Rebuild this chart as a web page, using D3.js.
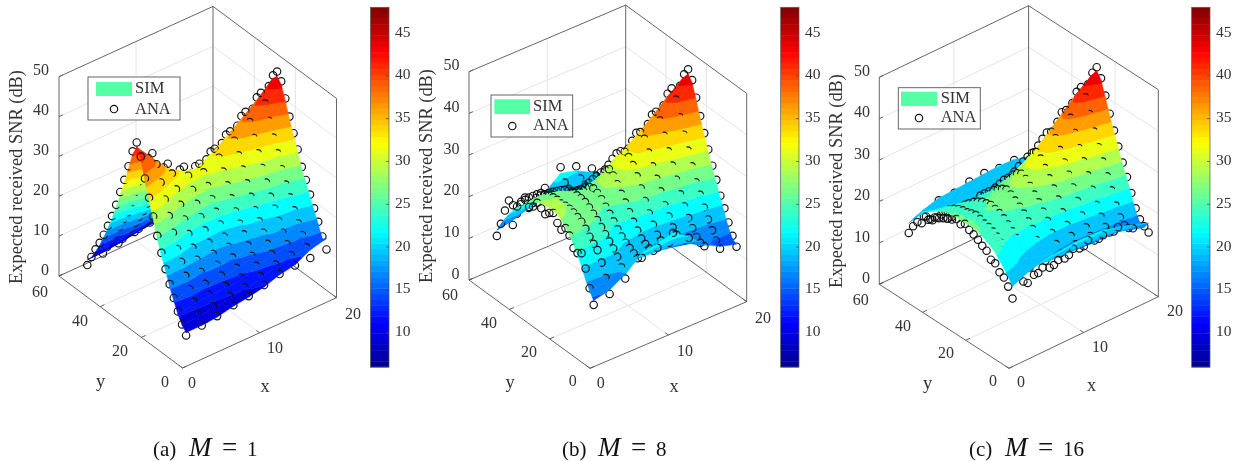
<!DOCTYPE html>
<html><head><meta charset="utf-8">
<script src="https://cdn.jsdelivr.net/npm/d3@7"></script>
<style>
html,body{margin:0;padding:0;background:#fff}
svg{display:block;filter:blur(0.4px)}
text{font-family:"Liberation Serif","Times New Roman",serif;fill:#333}
</style></head><body>
<svg id="chart" width="1233" height="461" viewBox="0 0 1233 461"></svg>
<script>
// ---------- data ----------
const xValues=[0.47,2.5,4.5,6.6,8.6,10.6,12.6,14.6,16.6,18.7];
const yValues=[0,2,4,6,8,10,12,14,16,18,20,22,24,26,28,30,32,34,36,38,40,42,44,46,48];
const zTicks=[0,10,20,30,40,50];
const xTicks=[0,10,20];
const yTicks=[0,20,40,60];
const barTicks=[10,15,20,25,30,35,40,45];
const barRange=[6,48];
const seriesNames=["SIM","ANA"];
const captions=[["(a)","M","=","1"],["(b)","M","=","8"],["(c)","M","=","16"]];
const zLabel="Expected received SNR (dB)";

const anaA=[
[7.3,9.3,11.8,14.4,17.1,20.1,23.4,26.9,31,34.9,39,43.7,46.5,43.5,39,34.8,31,27,23.4,20.2,17.2,14.4,12,9.3,6.5],
[8,10,12.4,14.8,17.4,20.1,22.6,25.9,29.3,32.7,36.2,40,42,40,36.2,32.7,29.3,25.9,22.6,20.1,17.4,14.8,12.4,10,7.6],
[8.6,10.3,12.4,14.4,16.6,18.9,21.1,23.8,26.7,29.6,32.7,35.9,37.6,35.9,32.7,29.6,26.7,23.8,21.1,18.9,16.6,14.4,12.4,10.3,8.4],
[9.5,11,12.8,14.6,16.5,18.5,20.5,22.9,25.4,28,30.7,33.5,35,33.5,30.7,28,25.4,22.9,20.5,18.5,16.5,14.6,12.8,11,9.4],
[10,11.4,13.1,14.8,16.6,18.5,20.3,22.6,25,27.4,29.9,32.6,34,32.6,29.9,27.4,25,22.6,20.3,18.5,16.6,14.8,13.1,11.4,10],
[11,12.5,14.3,16,17.9,19.9,21.8,24.1,26.6,29.1,31.8,34.5,36,34.5,31.8,29.1,26.6,24.1,21.8,19.9,17.9,16,14.3,12.5,11],
[12,13.6,15.5,17.3,19.3,21.4,23.4,26,28.6,31.3,34.1,37,38.6,37,34.1,31.3,28.6,26,23.4,21.4,19.3,17.3,15.5,13.6,12],
[12.4,14.2,16.2,18.3,20.5,22.8,25,27.8,30.7,33.6,36.7,39.9,41.7,39.9,36.7,33.6,30.7,27.8,25,22.8,20.5,18.3,16.2,14.2,12.4],
[12.5,14.4,16.7,18.9,21.4,23.9,26.3,29.4,32.6,35.8,39.2,42.8,44.7,42.8,39.2,35.8,32.6,29.4,26.3,23.9,21.4,18.9,16.7,14.4,12.5],
[12.8,15.3,18.2,20.8,23.5,26.4,28.9,32.5,35.8,39.2,43,46.5,48.2,46.5,43,39.2,35.8,32.5,28.9,26.4,23.5,20.8,18.2,15.3,12.8]];
const simA=[
[8.5,9.6,11.6,14.2,16.9,20.3,23.2,26.7,30.8,34.6,38.8,43.4,45.7,43.2,38.8,34.6,30.8,26.8,23.2,20,17,14.2,11.8,9.6,8.3],
[8.5,9.8,12.2,15,17.2,19.8,22.9,25.7,29.1,32.9,36,39.7,41.2,39.7,36,32.5,29.1,25.7,22.4,19.9,17.2,14.6,12.2,9.8,8.4],
[8.8,10.1,12.6,14.2,16.4,19.1,20.9,23.6,26.9,29.4,32.5,35.6,36.8,35.6,32.5,29.4,26.5,23.6,20.9,18.7,16.4,14.2,12.2,10.1,8.8],
[9.7,10.8,12.6,14.4,16.8,18.3,20.7,22.7,25.2,28.2,30.5,33.2,34.2,33.2,30.5,27.8,25.2,22.7,20.3,18.3,16.3,14.4,12.6,10.8,9.6],
[10.2,11.2,12.9,15,16.4,18.7,20.1,22.4,25.2,27.2,29.7,32.3,33.2,32.3,29.7,27.2,24.8,22.4,20.1,18.3,16.4,14.6,12.9,11.2,10.2],
[11,12.3,14.5,15.8,17.7,20.1,21.6,23.9,26.8,28.9,31.6,34.2,35.2,34.2,31.6,28.9,26.4,23.9,21.6,19.7,17.7,15.8,14.1,12.3,11],
[12.3,13.4,15.3,17.5,19.1,21.2,23.6,25.8,28.4,31.5,33.9,36.7,37.8,36.7,33.9,31.1,28.4,25.8,23.2,21.2,19.1,17.1,15.3,13.4,12.3],
[13,14,16,18.1,20.7,22.6,24.8,27.6,30.9,33.4,36.5,39.6,40.9,39.6,36.5,33.4,30.5,27.6,24.8,22.6,20.3,18.1,16,14,13],
[15,14.6,16.5,18.7,21.2,24.1,26.1,29.2,32.4,35.6,39,42.5,43.9,42.5,39,35.6,32.4,29.2,26.1,23.7,21.2,18.7,16.5,14.6,14.5],
[16,15.1,18,20.6,23.3,26.2,28.7,32.3,35.6,39,42.8,46.2,47.4,46.2,42.8,39,35.6,32.3,28.7,26.2,23.3,20.6,18,15.1,15.5]];
const anaB=[
[14.4,17.7,21.7,24.7,24,24.5,26.8,27.9,26.8,27.7,29.4,28.7,27.7,28.4,29,27.4,26.6,27.6,26.4,24.6,24.2,24.6,21.5,17.6,14],
[15.4,18.5,21.5,23.8,24.6,25.6,26.8,27.8,28.2,28.6,28.8,28.8,28.6,28.8,28.7,28.5,28,27.6,26.6,25.5,24.4,23.7,21.4,18.4,15],
[17.5,19.5,21.3,22.6,23.6,24.6,25.6,26.6,27.4,28.2,28.8,29,29,29,28.7,28.2,27.4,26.5,25.6,24.6,23.6,22.6,21.3,19.4,17.5],
[20.8,20,20.5,21,21.6,22.4,23.4,24.6,25.7,26.7,27.8,28.6,29,28.6,27.8,26.7,25.7,24.6,23.4,22.4,21.6,21,20.4,20.1,20.6],
[21.6,20.2,20,20.4,21,22.2,23.6,25.2,26.8,28.2,29.8,31.2,32,31.2,29.8,28.2,26.8,25.2,23.6,22.2,21,20.4,20.2,21,24],
[23.6,20.5,19.4,19.6,20.3,22,24,26.3,28.6,30.8,32.8,34,34.6,34,32.8,30.8,28.6,26.3,24,22,20.3,19.6,19.6,20.4,22.6],
[20.8,19.5,18.8,19.4,20.5,22.4,24.4,27,29.3,31.6,34.2,36.8,37.7,36.8,34.2,31.6,29.3,27,24.4,22.4,20.5,19.4,18.8,19.5,20.5],
[17.2,17.3,18,19.4,21.1,23.2,25.4,28.2,30.9,33.6,36.6,39.6,41,39.6,36.6,33.6,30.9,28.2,25.4,23.2,21.1,19.4,18,17.3,17],
[15,16.2,18,19.9,22,24.4,26.7,29.8,32.9,36,39.5,43,45,43,39.5,36,32.9,29.8,26.7,24.4,22,19.9,18,16.2,15],
[13.8,15.7,18.2,20.9,23.2,26.3,29,32.2,35.4,38.8,42.5,46,47.9,46,42.5,38.8,35.4,32.2,29,26.3,23.2,20.9,18.2,15.7,13.8]];
const simB=[
[15.9,17.5,19.5,22,24,25.8,27.4,28.6,29.6,30.2,30.4,30.4,30.2,30,29.6,29,28,27,25.8,24.6,23.4,21.8,20,18,15.8],
[16.8,18,20,21.8,23.2,25,26.4,27.6,28.4,29,29.4,29.6,29.6,29.6,29.3,28.9,28.3,27.5,26.3,25,23.4,21.6,19.9,18.1,16.6],
[19,19.4,20.6,21.8,23,24.4,25.6,26.8,27.6,28.4,29,29.3,29.4,29.3,29,28.3,27.6,26.7,25.6,24.3,23,21.8,20.6,19.3,18.8],
[22.4,20.4,20,20.6,21.4,22.2,23.2,24.4,25.5,26.6,27.6,28.3,28.4,28.3,27.6,26.5,25.5,24.4,23.2,22.2,21.4,20.6,20,20.2,20],
[23,20.2,19.4,19.6,20.2,21.8,23.5,25,26.6,28,29.6,30.9,31.3,30.9,29.6,28,26.6,25,23.4,21.8,20.4,19.6,19.6,20.4,23],
[24,20.6,18.8,18.4,19.4,21.6,23.8,26.1,28.4,30.6,32.6,33.8,34,33.8,32.6,30.6,28.4,26.1,23.8,21.8,20,19,19.2,20.4,22],
[21.6,19.4,18,18,19.6,22,24.2,26.8,29.1,31.4,34,36.6,37,36.6,34,31.4,29.1,26.8,24.2,22.2,20.2,19.2,19,19.4,20],
[18,17.2,17.2,18.4,20.4,23,25.2,28,30.7,33.4,36.4,39.4,40.3,39.4,36.4,33.4,30.7,28,25.2,23,20.9,19.2,17.8,17.2,17.6],
[16,15.8,16.8,18.8,21.4,24.2,26.5,29.6,32.7,35.8,39.3,42.8,44.2,42.8,39.3,35.8,32.7,29.6,26.5,24.2,21.4,18.8,16.8,15.8,15.8],
[14.8,15.4,17.4,20.2,23,26.1,28.8,32,35.2,38.6,42.3,45.8,47.2,45.8,42.3,38.6,35.2,32,28.8,26.1,23,20.2,17.4,15.4,14.6]];
const anaC=[
[16,18.2,19.7,20.3,21.8,22,23.5,24,24.8,25.4,25.8,26.6,25.8,26.4,25.6,25.2,24.6,23.9,23.4,22.3,22.3,20,19.6,17.9,15.6],
[18,17.7,18.3,19.6,21,22.4,23.6,24.4,25,25.4,25.6,26,26.3,26,25.6,25.4,25,24.4,23.6,22.4,21,19.6,18.3,17.7,17.8],
[20,18,16.9,18,19.8,21.6,23,24,25,25.8,26.4,26.7,27,26.7,26.4,25.8,25,24,23,21.6,19.8,18,16.9,18,20],
[20,18.1,16.8,17.8,19.4,21.4,23.4,24.6,25.8,26.8,27.6,28.4,28.9,28.4,27.6,26.8,25.8,24.6,23.4,21.4,19.4,17.8,16.8,18.1,20],
[21,18.8,17.3,17.8,19.4,21.4,23.6,25.2,26.8,28,29.4,30.4,31,30.4,29.4,28,26.8,25.2,23.6,21.4,19.4,17.8,17.3,18.8,21],
[21.3,19.2,18,18.3,19.6,21.6,24,26.4,28.4,30.2,32,33.6,34.5,33.6,32,30.2,28.4,26.4,24,21.6,19.6,18.3,18,19.2,21.3],
[20.8,19.3,18.2,18.6,20,22.2,25,27.6,30,32.3,34.6,36.8,37.7,36.8,34.6,32.3,30,27.6,25,22.2,20,18.6,18.2,19.3,20.8],
[21,19.3,18.4,19,20.8,23,26,28.8,31.5,34,37,40,41.2,40,37,34,31.5,28.8,26,23,20.8,19,18.4,19.3,21],
[19,18.4,18.4,19.6,21.8,24.8,27.5,30.4,33.2,36.3,39.8,43.2,45,43.2,39.8,36.3,33.2,30.4,27.5,24.8,21.8,19.6,18.4,18.4,19],
[16.2,17,18,20,23,26.2,29,32.2,35.4,38.8,42.5,46,48,46,42.5,38.8,35.4,32.2,29,26.2,23,20,18,17,16.2]];
const simC=[
[19.4,21,22.4,23.6,24.8,25.6,26.2,26.8,27.2,27.4,27.4,27.3,27.2,27.3,27.2,27,26.6,26,25.4,24.6,23.8,23,21.8,20,18.4],
[21,21,21.4,22.2,23.2,24,24.8,25.4,25.9,26.2,26.4,26.6,26.6,26.6,26.4,26.2,25.9,25.4,24.8,23.9,22.8,21.8,21.2,20.6,20],
[21.9,20.6,19.8,20.6,21.8,23,24,24.8,25.6,26.2,26.8,27,27.2,27,26.8,26.2,25.6,24.8,24,23,22,21,20.6,20.8,21],
[22.4,20.4,19,19.6,20.8,22.2,23.8,24.9,26.1,27,27.8,28.6,29,28.6,27.8,27,26.1,24.9,23.8,22.4,21,20.4,20.2,20.8,21.2],
[22.7,20.6,18.8,18.8,19.8,21.6,23.8,25.4,27,28.2,29.6,30.6,31.2,30.6,29.6,28.2,27,25.4,23.8,21.8,20.4,19.8,20,20.8,21.4],
[22.7,20.4,18.5,18.4,19.6,21.6,24,26.5,28.5,30.3,32.1,33.7,34.5,33.7,32.1,30.3,28.5,26.5,24,21.8,20.2,19.6,19.8,20.8,21.6],
[22.4,20,18.2,18.4,19.8,22.2,24.9,27.6,30,32.3,34.6,36.8,37.6,36.8,34.6,32.3,30,27.6,24.9,22.2,20.2,19.6,19.8,20.8,21.8],
[21.5,19.6,18.2,18.6,20.6,23,26,28.8,31.5,34,37,40,41,40,37,34,31.5,28.8,26,23,20.6,19.6,19.8,20.8,21.6],
[20.4,18.4,17.8,19,21.6,24.8,27.5,30.4,33.2,36.3,39.8,43.2,44.8,43.2,39.8,36.3,33.2,30.4,27.5,24.8,21.6,19,17.8,18.4,20.6],
[18.9,17.2,17.6,19.8,23,26.2,29,32.2,35.4,38.8,42.5,46,47.6,46,42.5,38.8,35.4,32.2,29,26.2,23,19.8,17.6,17.2,19]];

// ---------- layout (pixels) ----------
const markerLift=0.45;
const layouts=[
{ana:anaA,sim:simA,zx:59,z0:276,z50:76.7,fx:182.5,fy:368,rx:336.5,ry:297.7,bar:[370.5,389],
 legend:{box:[88,77,180,120],patch:[96,82,132,96],tx:135,ty:[89,110],cx:114,cy:109},
 zlabelX:49,ylab:[[165,383],[120,352],[80,322],[40,293]],xlab:[[192,384],[275,349],[353,315]],
 yName:[100.7,383],xName:[265,388],title:[18,177],cap:153},
{ana:anaB,sim:simB,zx:469,z0:280,z50:71.7,fx:590,fy:368.3,rx:746.7,ry:301.7,bar:[780.7,799],
 legend:{box:[491,95,572.7,137],patch:[494.3,99.3,530,114],tx:533,ty:[107.7,126.7],cx:512.3,cy:126},
 zlabelX:459.5,ylab:[[572.7,382],[529,353],[489,324],[450,296]],xlab:[[600.7,384],[685,352],[763,319]],
 yName:[510,384],xName:[674,388],title:[428,176],cap:562},
{ana:anaC,sim:simC,zx:879.3,z0:284.3,z50:77.3,fx:1009,fy:368.3,rx:1158.3,ry:296.7,bar:[1191.7,1210],
 legend:{box:[898.3,87.7,980.3,129],patch:[901,91.7,937.3,106],tx:940.7,ty:[99.3,118.3],cx:919,cy:118},
 zlabelX:870,ylab:[[993,382.3],[946,354.3],[903,327.7],[860.7,301]],xlab:[[1021,383],[1100,348],[1175,312]],
 yName:[927.7,385],xName:[1091.7,387],title:[838,181],cap:969}];

const jet=d3.scaleLinear()
  .domain([0,0.125,0.375,0.625,0.875,1])
  .range(["#00008f","#0000ff","#00ffff","#ffff00","#ff0000","#800000"]);
const colorNorm=d3.scaleLinear().domain([6,51.5]).range([0,1]);
const levelCount=16;
const levels=d3.range(levelCount+1).map(k=>barRange[0]+k*(barRange[1]-barRange[0])/levelCount);

const svg=d3.select("#chart");

function clip(poly,level,above){
  const out=[];
  for(let k=0;k<poly.length;k++){
    const a=poly[k],b=poly[(k+1)%poly.length];
    const ina=above?a[2]>=level:a[2]<=level, inb=above?b[2]>=level:b[2]<=level;
    if(ina)out.push(a);
    if(ina!==inb){
      const t=(level-a[2])/(b[2]-a[2]);
      out.push([a[0]+t*(b[0]-a[0]),a[1]+t*(b[1]-a[1]),level]);
    }
  }
  return out;
}

layouts.forEach((L,pi)=>{
  const g=svg.append("g");
  const bx=L.zx, by=L.z0;
  const sxH=d3.scaleLinear([0,20],[0,L.rx-L.fx]), sxV=d3.scaleLinear([0,20],[0,L.ry-L.fy]);
  const syH=d3.scaleLinear([0,60],[0,bx-L.fx]), syV=d3.scaleLinear([0,60],[0,by-L.fy]);
  const sz=d3.scaleLinear([0,50],[0,L.z50-L.z0]);
  const P=(x,y,z)=>[L.fx+sxH(x)+syH(y), L.fy+sxV(x)+syV(y)+sz(z)];
  const seg=(a,b,col,w)=>g.append("line").attr("x1",a[0]).attr("y1",a[1]).attr("x2",b[0]).attr("y2",b[1])
      .attr("stroke",col).attr("stroke-width",w);
  const gridCol="#e4e4e4", boxCol="#555";
  zTicks.slice(1,-1).forEach(z=>{seg(P(0,60,z),P(20,60,z),gridCol,1);seg(P(20,60,z),P(20,0,z),gridCol,1);});
  seg(P(10,60,0),P(10,60,50),gridCol,1);
  [20,40].forEach(y=>{seg(P(20,y,0),P(20,y,50),gridCol,1);seg(P(0,y,0),P(20,y,0),gridCol,1);});
  seg(P(10,0,0),P(10,60,0),gridCol,1);
  [[[0,60,0],[0,60,50]],[[20,60,0],[20,60,50]],[[20,0,0],[20,0,50]],
   [[0,60,50],[20,60,50]],[[20,60,50],[20,0,50]],
   [[0,60,0],[20,60,0]],[[20,60,0],[20,0,0]],
   [[0,60,0],[0,0,0]],[[0,0,0],[20,0,0]]].forEach(([a,b])=>seg(P(...a),P(...b),boxCol,0.9));
  zTicks.forEach(z=>seg(P(0,60,z),P(0.5,60,z),boxCol,0.9));
  xTicks.forEach(x=>seg(P(x,0,0),P(x,1.6,0),boxCol,0.9));
  yTicks.forEach(y=>seg(P(0,y,0),P(0.55,y,0),boxCol,0.9));
  zTicks.forEach(z=>g.append("text").attr("x",L.zlabelX).attr("y",P(0,60,z)[1]-5).attr("text-anchor","end")
     .attr("dominant-baseline","middle").attr("font-size",16).text(z));
  yTicks.forEach((y,k)=>g.append("text").attr("x",L.ylab[k][0]).attr("y",L.ylab[k][1]).attr("text-anchor","middle")
     .attr("dominant-baseline","middle").attr("font-size",16).text(y));
  xTicks.forEach((x,k)=>g.append("text").attr("x",L.xlab[k][0]).attr("y",L.xlab[k][1]).attr("text-anchor","middle")
     .attr("dominant-baseline","middle").attr("font-size",16).text(x));
  g.append("text").attr("x",L.yName[0]).attr("y",L.yName[1]).attr("text-anchor","middle").attr("dominant-baseline","middle").attr("font-size",18.4).text("y");
  g.append("text").attr("x",L.xName[0]).attr("y",L.xName[1]).attr("text-anchor","middle").attr("dominant-baseline","middle").attr("font-size",18.4).text("x");
  g.append("text").attr("transform",`translate(${L.title[0]},${L.title[1]}) rotate(-90)`).attr("text-anchor","middle")
     .attr("dominant-baseline","middle").attr("font-size",18.4).text(zLabel);

  const surf=g.append("g");
  const line=d3.line();
  for(let j=yValues.length-1;j>=0;j--){
    for(let i=xValues.length-1;i>=0;i--){
      if(i<xValues.length-1&&j<yValues.length-1){
        const v=(a,b)=>[xValues[a],yValues[b],L.sim[a][b]];
        const tris=[[v(i,j),v(i+1,j),v(i+1,j+1)],[v(i,j),v(i+1,j+1),v(i,j+1)]];
        for(let k=0;k<levelCount;k++){
          let d="";
          tris.forEach(t=>{
            let poly=clip(t,levels[k],true);
            if(poly.length>2)poly=clip(poly,levels[k+1],false);
            if(poly.length>2)d+=line(poly.map(p=>P(p[0],p[1],p[2])))+"Z";
          });
          if(d){
            const col=jet(colorNorm((levels[k]+levels[k+1])/2));
            surf.append("path").attr("d",d).attr("fill",col).attr("stroke",col).attr("stroke-width",0.5).attr("stroke-linejoin","round");
          }
        }
      }
      const c=P(xValues[i],yValues[j],L.ana[i][j]+markerLift);
      surf.append("circle").attr("cx",c[0]).attr("cy",c[1]).attr("r",3.7)
        .attr("fill","none").attr("stroke","#111").attr("stroke-width",1.15);
    }
  }
  const sb=d3.scaleLinear().domain(barRange).range([367,7.3]);
  const steps=d3.range(64);
  g.append("g").selectAll("rect").data(steps).join("rect")
    .attr("x",L.bar[0]).attr("width",L.bar[1]-L.bar[0])
    .attr("y",k=>sb(barRange[0]+(k+1)*(barRange[1]-barRange[0])/64))
    .attr("height",(sb.range()[0]-sb.range()[1])/64+0.4)
    .attr("fill",k=>jet((k+0.5)/64));
  g.append("rect").attr("x",L.bar[0]).attr("y",7.3).attr("width",L.bar[1]-L.bar[0]).attr("height",359.7)
    .attr("fill","none").attr("stroke","#555").attr("stroke-width",0.7);
  barTicks.forEach(t=>{
    seg([L.bar[1]-3,sb(t)],[L.bar[1],sb(t)],"#444",0.7);
    g.append("text").attr("x",L.bar[1]+6).attr("y",sb(t)).attr("dominant-baseline","middle").attr("font-size",15.5).text(t);
  });
  const lg=L.legend;
  g.append("rect").attr("x",lg.box[0]).attr("y",lg.box[1]).attr("width",lg.box[2]-lg.box[0]).attr("height",lg.box[3]-lg.box[1])
    .attr("fill","#fff").attr("stroke","#555").attr("stroke-width",0.9);
  g.append("rect").attr("x",lg.patch[0]).attr("y",lg.patch[1]).attr("width",lg.patch[2]-lg.patch[0]).attr("height",lg.patch[3]-lg.patch[1])
    .attr("fill","#55ffa5");
  seriesNames.forEach((s,k)=>g.append("text").attr("x",lg.tx).attr("y",lg.ty[k]).attr("dominant-baseline","middle").attr("font-size",16.5).text(s));
  g.append("circle").attr("cx",lg.cx).attr("cy",lg.cy).attr("r",3.7).attr("fill","none").attr("stroke","#111").attr("stroke-width",1.15);
  // caption: label, symbol, sign, value
  const capText=(dx,s,size)=>g.append("text").attr("x",L.cap+dx).attr("y",456).attr("font-size",size).style("fill","#111").text(s);
  capText(0,captions[pi][0],21);
  capText(36,captions[pi][1],27).attr("font-style","italic");
  capText(69,captions[pi][2],27);
  capText(94,captions[pi][3],21);
});
</script>
</body></html>
